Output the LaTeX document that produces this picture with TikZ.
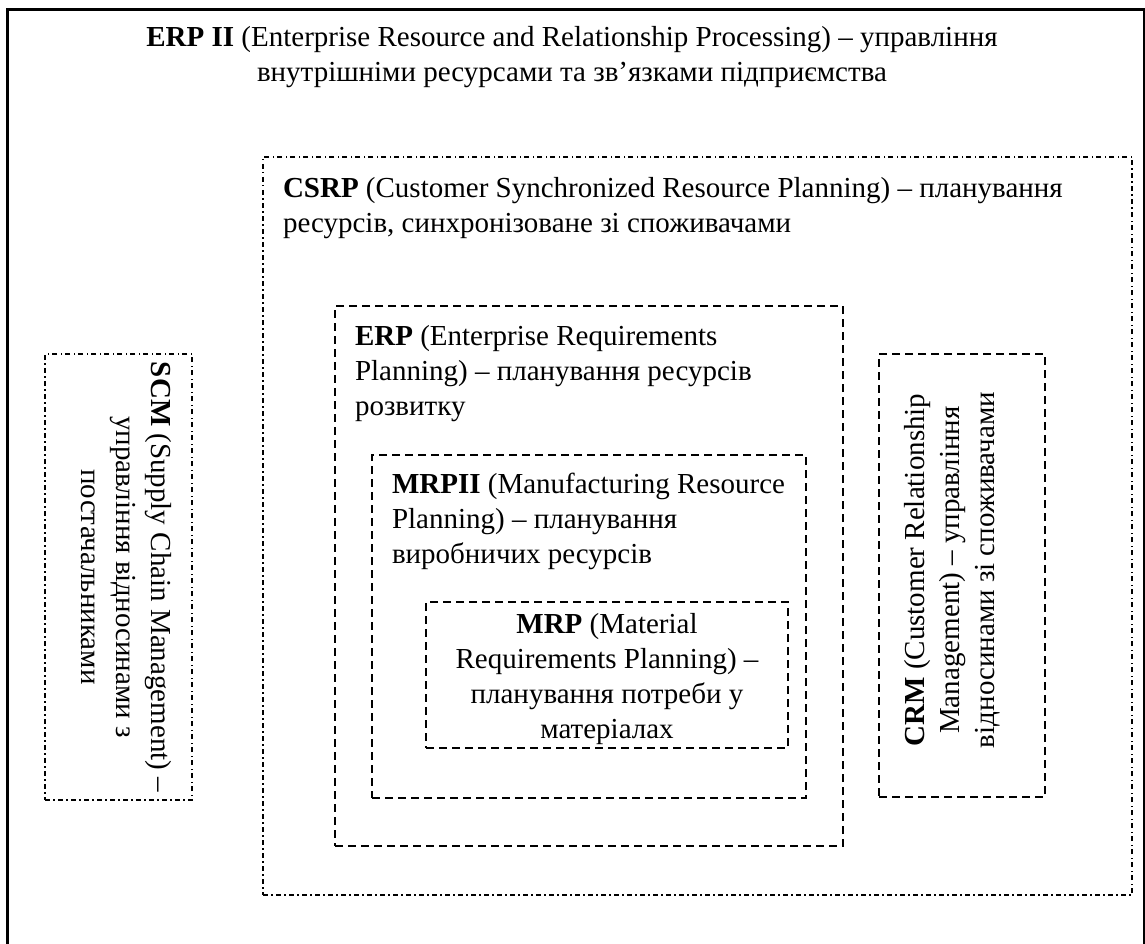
\documentclass[tikz,border=0pt]{standalone}
\usepackage{fontspec}
\setmainfont{Liberation Serif}
\tikzset{
  frame/.style={draw, line width=3pt, inner sep=0pt, outer sep=0pt, anchor=north west},
  dashbox/.style={draw, line width=1.5pt, dash pattern=on 8pt off 5pt, inner sep=0pt, outer sep=0pt, anchor=north west},
  dotbox/.style={draw, line width=1.5pt, dash pattern=on 5pt off 3pt on 1.5pt off 3.5pt, inner sep=0pt, outer sep=0pt, anchor=north west},
  lbl/.style={inner sep=0pt, outer sep=0pt, font=\fontsize{29}{35}\selectfont},
}
\begin{document}
\begin{tikzpicture}[x=1pt,y=-1pt]
\useasboundingbox (0,0) rectangle (1145,944);
% boxes
\node[frame, minimum width=1137pt, minimum height=1000pt] (outer) at (7,10) {};
\node[dotbox, minimum width=869pt, minimum height=738pt] (csrp) at (263,157) {};
\node[dashbox, minimum width=508pt, minimum height=540pt] (erp) at (335,306) {};
\node[dashbox, minimum width=434pt, minimum height=343pt] (mrpii) at (372,455) {};
\node[dashbox, minimum width=362pt, minimum height=146pt] (mrp) at (426,602) {};
\node[dotbox, minimum width=147pt, minimum height=446pt] (scm) at (45,354) {};
\node[dashbox, minimum width=166pt, minimum height=443pt] (crm) at (879,354) {};
% texts (base anchor = baseline of the last line)
\node[lbl, align=center, anchor=base] (t-erp2) at (572,82)
  {\textbf{ERP II} (Enterprise Resource and Relationship Processing) – управління\\
   внутрішніми ресурсами та зв’язками підприємства};
\node[lbl, align=left, anchor=base west] (t-csrp) at (283,232)
  {\textbf{CSRP} (Customer Synchronized Resource Planning) – планування\\
   ресурсів, синхронізоване зі споживачами};
\node[lbl, align=left, anchor=base west] (t-erp) at (355,415)
  {\textbf{ERP} (Enterprise Requirements\\
   Planning) – планування ресурсів\\
   розвитку};
\node[lbl, align=left, anchor=base west] (t-mrpii) at (392,563)
  {\textbf{MRPII} (Manufacturing Resource\\
   Planning) – планування\\
   виробничих ресурсів};
\node[lbl, align=center, anchor=base] (t-mrp) at (607,738)
  {\textbf{MRP} (Material\\
   Requirements Planning) –\\
   планування потреби у\\
   матеріалах};
\node[lbl, align=center, rotate=-90] (t-scm) at (126,577)
  {\textbf{SCM} (Supply Chain Management) –\\
   управління відносинами з\\
   постачальниками};
\node[lbl, align=center, rotate=90] (t-crm) at (952,570)
  {\textbf{CRM} (Customer Relationship\\
   Management) – управління\\
   відносинами зі споживачами};
\end{tikzpicture}
\end{document}
